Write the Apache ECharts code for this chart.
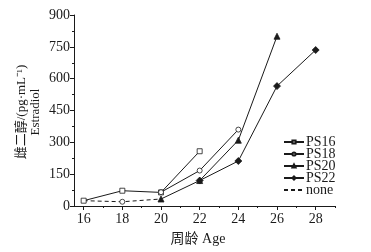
<!DOCTYPE html>
<html>
<head>
<meta charset="utf-8">
<style>
  html, body { margin:0; padding:0; background:#fff; }
  #chart { width:371px; height:252px; }
</style>
<script src="https://cdn.jsdelivr.net/npm/echarts@6/dist/echarts.min.js"></script>
</head>
<body>
<div id="chart"></div>
<script>
// 周龄 (x) 与各组雌二醇含量
const ages = [16, 18, 20, 22, 24, 26, 28];
const ps16 = [25, 72, 64, 258, null, null, null];
const ps18 = [null, 20, 65, 167, 360, null, null];
const ps20 = [null, null, 33, 120, 310, 800, null];
const ps22 = [null, null, null, 120, 212, 565, 735];
const none = [25, 20, 33, null, null, null, null];
const xTicks = [16, 18, 20, 22, 24, 26, 28];
const xMinor = [17, 19, 21, 23, 25, 27, 29];
// PS18 在 18 与 20 之间断开
const ps18BreakAfter = 18;

const serif = '"Liberation Serif", "Noto Sans CJK SC", serif';
const ink = '#1a1a1a';

function pairs(vals, breakAfter) {
  const out = [];
  ages.forEach((a, i) => {
    if (vals[i] == null) return;
    out.push([a, vals[i]]);
    if (a === breakAfter) out.push([a + 1, '-']);
  });
  return out;
}

function lineSeries(name, vals, symbol, size, filled, extra) {
  return Object.assign({
    name: name,
    type: 'line',
    data: pairs(vals, extra && extra.breakAfter),
    symbol: symbol,
    symbolSize: size,
    showSymbol: true,
    connectNulls: false,
    lineStyle: { color: ink, width: 1 },
    itemStyle: { color: filled ? ink : '#fff', borderColor: ink, borderWidth: 0.8 },
    emphasis: { disabled: true },
    animation: false
  }, extra && extra.opts);
}

const chart = echarts.init(document.getElementById('chart'), null, { renderer: 'canvas' });
chart.setOption({
  backgroundColor: '#fff',
  animation: false,
  grid: { left: 74, right: 36, top: 15, bottom: 46 },
  xAxis: [{
    type: 'value', min: 15.5, max: 29,
    axisLine: { lineStyle: { color: ink, width: 1 } },
    axisTick: { customValues: xTicks, length: 4, lineStyle: { color: ink } },
    axisLabel: { customValues: xTicks, color: ink, fontFamily: serif, fontSize: 14, margin: 6 },
    splitLine: { show: false }
  }, {
    type: 'value', min: 15.5, max: 29, position: 'bottom',
    axisLine: { show: false },
    axisTick: { customValues: xMinor, length: 2, lineStyle: { color: ink } },
    axisLabel: { show: false },
    splitLine: { show: false }
  }],
  yAxis: {
    type: 'value', min: 0, max: 900, interval: 150,
    axisLine: { show: true, lineStyle: { color: ink, width: 1 } },
    axisTick: { show: true, length: 4, lineStyle: { color: ink } },
    minorTick: { show: true, splitNumber: 2, length: 2, lineStyle: { color: ink } },
    axisLabel: { color: ink, fontFamily: serif, fontSize: 14, margin: 4 },
    splitLine: { show: false }
  },
  legend: {
    orient: 'vertical', left: 283, top: 135, padding: 0,
    itemWidth: 20, itemHeight: 4, itemGap: -2,
    textStyle: { fontFamily: serif, fontSize: 14, color: ink, lineHeight: 13, padding: [0, 0, 0, -3] },
    data: ['PS16', 'PS18', 'PS20', 'PS22', { name: 'none', itemStyle: { opacity: 0 } }]
  },
  graphic: [
    {
      type: 'text', x: 29, y: 112, rotation: Math.PI / 2, originX: 0, originY: 0,
      style: {
        text: '雌二醇/(pg·mL⁻¹)\nEstradiol',
        font: '13px ' + serif, fill: ink,
        align: 'center', verticalAlign: 'middle', lineHeight: 14
      }
    },
    {
      type: 'text', x: 198, y: 239,
      style: { text: '周龄 Age', font: '14px ' + serif, fill: ink, align: 'center', verticalAlign: 'middle' }
    }
  ],
  series: [
    lineSeries('PS16', ps16, 'rect', 5, false),
    lineSeries('PS18', ps18, 'circle', 5, false, { breakAfter: ps18BreakAfter }),
    lineSeries('PS20', ps20, 'triangle', 6, true),
    lineSeries('PS22', ps22, 'diamond', 7, true),
    lineSeries('none', none, 'none', 0, false, { opts: { lineStyle: { color: ink, width: 1, type: [4, 3] } } })
  ]
});
</script>
</body>
</html>
